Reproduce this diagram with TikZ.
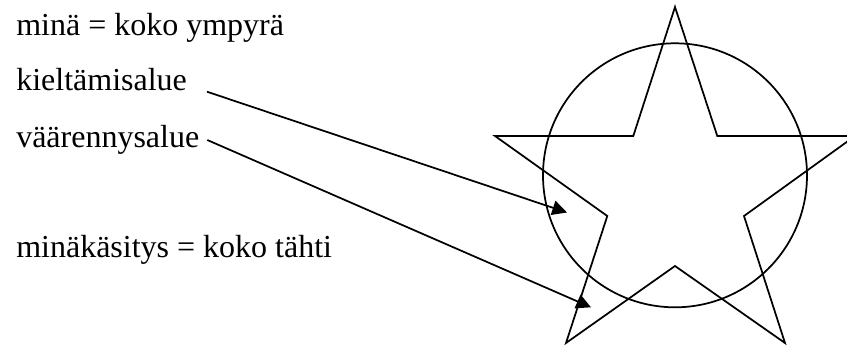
\documentclass[tikz,border=0pt]{standalone}
\usepackage{fontspec}
\setmainfont{Liberation Serif}
\usetikzlibrary{arrows.meta}
\tikzset{
  label/.style={anchor=base west, inner sep=0pt, font=\fontsize{24}{28}\selectfont},
  outline/.style={draw, line width=1.3pt, line join=miter},
  pointer/.style={-{Triangle[length=11pt, width=11pt]}, line width=1.3pt}
}
\begin{document}
\begin{tikzpicture}[x=0.75pt, y=-0.75pt]
  \useasboundingbox (0,0) rectangle (847,347);
  \node[label] (mina) at (16,35) {minä = koko ympyrä};
  \node[label] (kielto) at (16,90) {kieltämisalue};
  \node[label] (vaaren) at (16,147) {väärennysalue};
  \node[label] (kasitys) at (16,257) {minäkäsitys = koko tähti};

  \draw[outline] (675,175.3) circle (132);
  \draw[outline] (675,7) -- (633.3,136) -- (495,136) -- (607.3,216) -- (566,343)
    -- (675,266) -- (785,343) -- (744,216) -- (855,136) -- (717.3,136) -- cycle;

  \coordinate (kielto-a) at (207,91.7);
  \coordinate (kielto-b) at (567,212.5);
  \coordinate (vaaren-a) at (207.3,140);
  \coordinate (vaaren-b) at (591,307.3);
  \draw[pointer] (kielto-a) -- (kielto-b);
  \draw[pointer] (vaaren-a) -- (vaaren-b);
\end{tikzpicture}
\end{document}
